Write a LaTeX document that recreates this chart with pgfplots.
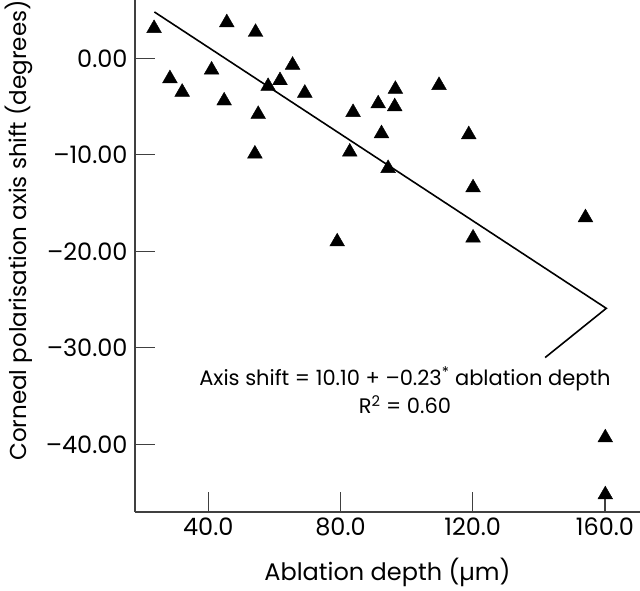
\documentclass[border=0pt]{standalone}
\usepackage{pgfplots}
\pgfplotsset{compat=1.18}
\usepackage{fontspec}
\setmainfont{Poppins}
\begin{document}
\begin{tikzpicture}
\begin{axis}[
  scale only axis, width=505pt, height=512pt,
  xmin=17.83, xmax=170.6, ymin=-47.0, ymax=6.04,
  axis lines=left, axis line style={-, line width=1.2pt, black!75},
  xtick={40,80,120,160}, xticklabels={40.0,80.0,120.0,160.0},
  ytick={-40,-30,-20,-10,0}, yticklabels={–40.00,–30.00,–20.00,–10.00,0.00},
  tick align=inside, major tick length=20pt,
  tick style={line width=1.2pt, black!75},
  ticklabel style={font=\fontsize{24}{28}\selectfont},
  yticklabel style={xshift=-4pt},
  xticklabel style={yshift=-2pt},
  xlabel={Ablation depth (µm)},
  ylabel={Corneal polarisation axis shift (degrees)},
  xlabel style={font=\fontsize{24}{28}\selectfont, at={(axis description cs:0.5,-0.133)}, anchor=base},
  ylabel style={font=\fontsize{23}{27}\selectfont, at={(axis description cs:-0.214,0.55)}, anchor=base},
  clip=false,
]
\addplot[only marks, mark=triangle*, mark size=8.5pt, black] coordinates {
(23.6,3.1) (45.6,3.7) (54.3,2.7) (28.4,-2.1) (32.1,-3.5) (41.0,-1.2)
(44.8,-4.4) (65.5,-0.7) (61.7,-2.3) (58.1,-2.9) (69.2,-3.6) (55.1,-5.8)
(54.1,-9.9) (83.8,-5.6) (82.8,-9.7) (79.0,-19.0) (91.4,-4.7) (96.6,-3.2)
(96.4,-5.0) (92.4,-7.8) (109.8,-2.8) (94.4,-11.4) (118.8,-7.9) (120.1,-13.4)
(120.1,-18.6) (154.1,-16.5) (160.1,-39.3) (160.1,-45.2)
};
\addplot[black, line width=1.6pt, no marks] coordinates {
(23.7,4.8) (160.4,-25.9) (141.9,-31.0)
};
\node[anchor=base, font=\fontsize{21}{25}\selectfont] at (axis cs:99.5,-33.85) {Axis shift = 10.10 + –0.23\textsuperscript{*} ablation depth};
\node[anchor=base, font=\fontsize{21}{25}\selectfont] at (axis cs:99.5,-36.8) {R\textsuperscript{2} = 0.60};
\end{axis}
\pgfresetboundingbox
\path[use as bounding box] ([xshift=-135pt,yshift=-78pt]current axis.south west) rectangle (current axis.north east);
\end{tikzpicture}
\end{document}
